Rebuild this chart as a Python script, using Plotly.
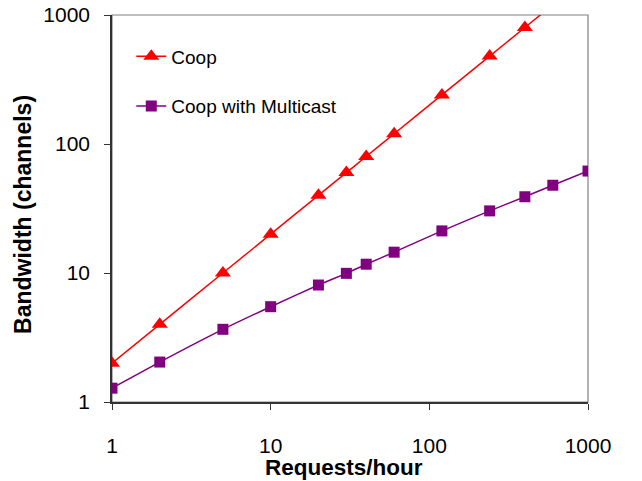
import plotly.graph_objects as go

requests_coop = [1, 2, 5, 10, 20, 30, 40, 60, 120, 240, 400, 600]
bandwidth_coop = [2, 4, 10, 20, 40, 60, 80, 120, 240, 480, 800, 1200]

requests_mc = [1, 2, 5, 10, 20, 30, 40, 60, 120, 240, 400, 600, 1000]
bandwidth_mc = [1.28, 2.04, 3.66, 5.48, 8.07, 9.94, 11.7, 14.5, 21.2, 30.3, 39, 47.9, 61.7]

tick_vals = [1, 10, 100, 1000]
tick_text = ["1", "10", "100", "1000"]

FONT = "Liberation Sans, Arial, sans-serif"

fig = go.Figure()
fig.add_trace(go.Scatter(
    x=requests_coop, y=bandwidth_coop, name="Coop", mode="lines+markers",
    line=dict(color="#FF0000", width=1.5, shape="spline", smoothing=0.5),
    marker=dict(symbol="triangle-up", size=14, color="#FF0000"),
    legendgroup="a",
))
fig.add_trace(go.Scatter(
    x=requests_mc, y=bandwidth_mc, name="Coop with Multicast", mode="lines+markers",
    line=dict(color="#800080", width=1.5, shape="spline", smoothing=0.5),
    marker=dict(symbol="square", size=11, color="#800080"),
    legendgroup="b",
))

fig.update_layout(
    width=642, height=481,
    margin=dict(l=112, r=54, t=15, b=79, autoexpand=False),
    paper_bgcolor="white", plot_bgcolor="white",
    font=dict(family=FONT, color="black", size=21),
    showlegend=True,
    legend=dict(x=0.0405, y=0.942, xanchor="left", yanchor="top",
                bgcolor="rgba(0,0,0,0)", font=dict(size=19, family=FONT),
                tracegroupgap=22),
    xaxis=dict(type="log", range=[0, 3], tickvals=tick_vals, ticktext=tick_text,
               showgrid=False, zeroline=False, showline=True, linecolor="#333333",
               linewidth=1.5, ticks="outside", ticklen=6, tickcolor="#333333",
               ticklabelstandoff=18, tickfont=dict(size=21), automargin=False,
               ticklabeloverflow="allow"),
    yaxis=dict(type="log", range=[0, 3], tickvals=tick_vals, ticktext=tick_text,
               showgrid=False, zeroline=False, showline=True, linecolor="#333333",
               linewidth=1.5, ticks="outside", ticklen=6, tickcolor="#333333",
               ticklabelstandoff=10, tickfont=dict(size=21), automargin=False,
               ticklabeloverflow="allow"),
    shapes=[dict(type="rect", xref="paper", yref="paper", x0=0, y0=0, x1=1, y1=1,
                 line=dict(color="#808080", width=1.2), layer="below")],
    annotations=[
        dict(text="<b>Requests/hour</b>", xref="paper", yref="paper", x=0.487, y=-0.168,
             xanchor="center", yanchor="middle", showarrow=False, font=dict(size=22.5)),
        dict(text="<b>Bandwidth (channels)</b>", xref="paper", yref="paper", x=-0.187, y=0.486,
             xanchor="center", yanchor="middle", showarrow=False, textangle=-90,
             font=dict(size=23)),
    ],
)

fig.write_html("out.html", config={"displayModeBar": False},
               post_script="document.body.style.margin='0';document.body.style.overflow='hidden';")
